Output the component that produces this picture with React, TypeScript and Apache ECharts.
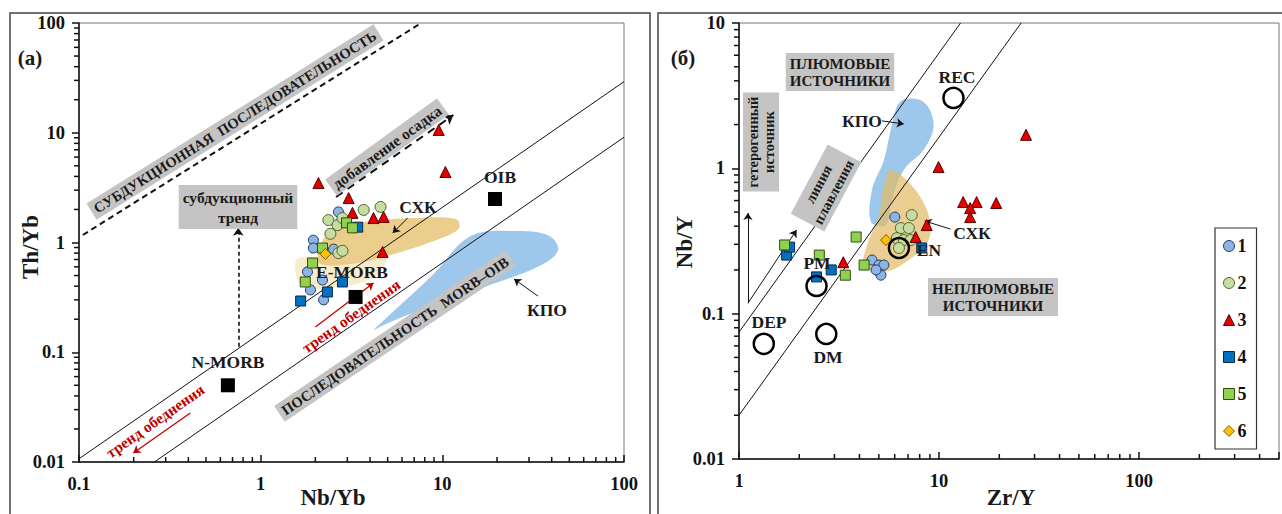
import React, { useEffect, useRef } from 'react';
import * as echarts from 'echarts';

const FONT = "'Liberation Serif','Times New Roman',serif";

// ---------- Panel (а): x = Nb/Yb, y = Th/Yb ----------
const A_S1 = [[2.68, 1.9], [1.95, 1.05], [1.95, 0.89], [2.52, 0.87], [1.81, 0.54], [1.88, 0.37], [2.19, 0.455], [2.22, 0.3]];
const A_S2 = [[4.57, 2.11], [3.69, 1.98], [2.36, 1.6], [2.65, 1.44], [2.42, 1.2], [2.82, 1.67], [2.68, 0.8], [2.82, 0.84]];
const A_S3 = [[2.08, 3.48], [3.05, 2.54], [3.2, 1.86], [4.18, 1.67], [4.75, 1.71], [4.69, 0.82], [9.55, 10.6], [10.4, 4.39]];
const A_S4 = [[3.42, 1.38], [2.33, 0.354], [1.66, 0.293], [2.82, 0.437]];
const A_S5 = [[2.97, 1.51], [3.2, 1.36], [2.19, 0.89], [1.93, 0.65], [1.76, 0.437]];
const A_S6 = [[2.27, 0.786]];
const A_REF = [[0.66, 0.05], [3.33, 0.319], [19.5, 2.49]]; // N-MORB, E-MORB, OIB

const A_UPPER = [[0.1, 0.0107], [100, 29.2]];
const A_LOWER = [[0.26, 0.01], [100, 9.1]];
const A_SUBD = [[0.105, 1.17], [7.65, 100]];
const A_SED_ARROW = [[2.6, 2.6], [11.5, 14.5]];
const A_SUBD_ARROW = [[0.753, 0.112], [0.753, 1.36]];
const A_RED_ARROW1 = [[0.41, 0.028], [0.199, 0.0121]];
const A_RED_ARROW2 = [[2.0, 0.17], [4.18, 0.428]];
const A_SXK_ARROW = [[6.44, 1.67], [5.33, 1.22]];
const A_KPO_ARROW = [[33.6, 0.325], [24.8, 0.465]];

const A_SXK_FIELD = [[2.08, 0.664], [2.42, 1.3], [3.69, 1.54], [6.95, 1.67], [11.9, 1.64], [12.3, 1.33], [8.63, 1.01], [5.19, 0.769], [3.13, 0.637]];
const A_EMORB_FIELD = [[1.61, 0.722], [3.13, 0.664], [4.88, 0.722], [4.13, 0.475], [2.42, 0.385], [1.66, 0.41]];
const A_KPO_FIELD = [[4.2, 0.16], [8.63, 0.485], [14.4, 1.15], [26.1, 1.27], [38.6, 1.15], [43.4, 0.855], [34.9, 0.62], [16.9, 0.39], [6.95, 0.23], [4.7, 0.175]];

const A_X_MINOR = [0.2, 0.3, 0.4, 0.5, 0.6, 0.7, 0.8, 0.9, 2, 3, 4, 5, 6, 7, 8, 9, 20, 30, 40, 50, 60, 70, 80, 90];
const A_Y_MINOR = [0.02, 0.03, 0.04, 0.05, 0.06, 0.07, 0.08, 0.09, 0.2, 0.3, 0.4, 0.5, 0.6, 0.7, 0.8, 0.9, 2, 3, 4, 5, 6, 7, 8, 9, 20, 30, 40, 50, 60, 70, 80, 90];

// ---------- Panel (б): x = Zr/Y, y = Nb/Y ----------
const B_S1 = [[6.01, 0.462], [4.62, 0.234], [5.01, 0.216], [5.3, 0.216], [5.12, 0.184], [4.84, 0.2]];
const B_S2 = [[7.3, 0.477], [6.44, 0.388], [7.06, 0.388], [6.15, 0.331], [6.66, 0.321], [7.22, 0.321], [6.3, 0.283]];
const B_S3 = [[27.2, 1.7], [9.94, 1.02], [13.2, 0.586], [15.4, 0.586], [14.3, 0.533], [14.3, 0.462], [19.3, 0.577], [8.67, 0.407], [7.64, 0.337], [3.32, 0.226]];
const B_S4 = [[1.73, 0.253], [2.44, 0.179], [2.89, 0.2], [1.79, 0.287], [8.19, 0.283]];
const B_S5 = [[1.69, 0.297], [2.52, 0.253], [3.85, 0.337], [3.4, 0.184], [4.22, 0.216]];
const B_S6 = [[5.43, 0.321]];
const B_REF = [[1.33, 0.062], [2.73, 0.0725], [2.44, 0.155], [6.3, 0.283], [11.8, 3.05]]; // DEP, DM, PM, EN, REC

const B_UPPER = [[1, 0.0746], [12.8, 10]];
const B_LOWER = [[1, 0.02], [25.7, 10]];
const B_HET_ARROW = [[1.108, 0.118], [1.108, 0.492]];
const B_MELT_ARROW = [[1.108, 0.118], [1.94, 0.376]];
const B_KPO_ARROW = [[5.18, 2.12], [6.66, 2.02]];
const B_SXK_ARROW = [[11.4, 0.382], [8.47, 0.434]];

const B_KPO_FIELD = [[6.44, 2.9], [8.38, 2.86], [9.39, 1.99], [8.38, 1.34], [6.66, 0.973], [5.81, 0.605], [5.43, 0.407], [4.57, 0.427], [4.62, 0.71], [5.3, 1.14], [5.81, 1.99]];
const B_SXK_FIELD = [[5.81, 0.973], [7.47, 0.732], [8.87, 0.477], [8.87, 0.321], [7.06, 0.234], [5.3, 0.193], [4.22, 0.216], [4.37, 0.297], [5.01, 0.477], [5.3, 0.767]];

const B_X_MINOR = [2, 3, 4, 5, 6, 7, 8, 9, 20, 30, 40, 50, 60, 70, 80, 90, 200, 300, 400];
const B_Y_MINOR = [0.02, 0.03, 0.04, 0.05, 0.06, 0.07, 0.08, 0.09, 0.2, 0.3, 0.4, 0.5, 0.6, 0.7, 0.8, 0.9, 2, 3, 4, 5, 6, 7, 8, 9];

const LEGEND_NAMES = ['1', '2', '3', '4', '5', '6'];

const STYLES: Record<string, any> = {
  '1': { symbol: 'circle', size: 10, color: '#8eb4e3', border: '#1f3864' },
  '2': { symbol: 'circle', size: 11, color: '#c7dca0', border: '#4f6228' },
  '3': { symbol: 'triangle', size: 11, color: '#e30000', border: '#5a0000' },
  '4': { symbol: 'rect', size: 10, color: '#0070c0', border: '#0b2a4a' },
  '5': { symbol: 'rect', size: 10, color: '#92d050', border: '#2f4f12' },
  '6': { symbol: 'diamond', size: 11, color: '#ffc000', border: '#7f6000' },
};

const fmt = (v: number) => {
  const l = Math.log10(v);
  const e = Math.round(l);
  if (Math.abs(l - e) > 1e-6) return '';
  return e < 0 ? v.toFixed(-e) : String(Math.round(v));
};

const axis = (gi: number, min: number, max: number, isX: boolean) => ({
  type: 'log',
  logBase: 10,
  gridIndex: gi,
  min,
  max,
  axisLine: { show: true, onZero: false, lineStyle: { color: '#111', width: 1.5 } },
  axisTick: { show: true, inside: isX, length: 7, lineStyle: { color: '#111', width: 1.5 } },
  axisLabel: {
    margin: isX ? 12 : 14,
    fontSize: 18.5,
    fontWeight: 'bold',
    fontFamily: FONT,
    color: '#111',
    formatter: fmt,
  },
  splitLine: { show: false },
});

const scatter = (name: string, data: number[][], gi: number) => {
  const s = STYLES[name];
  return {
    type: 'scatter',
    name,
    xAxisIndex: gi,
    yAxisIndex: gi,
    data,
    symbol: s.symbol,
    symbolSize: s.size,
    itemStyle: { color: s.color, borderColor: s.border, borderWidth: 1, opacity: 1 },
    z: 5,
  };
};

const field = (poly: number[][], gi: number, fill: string, z = 1) => ({
  type: 'custom',
  xAxisIndex: gi,
  yAxisIndex: gi,
  silent: true,
  clip: true,
  z,
  data: [poly[0]],
  renderItem: (params: any, api: any) => ({
    type: 'polygon',
    shape: { points: poly.map((p) => api.coord(p)), smooth: 0.35 },
    style: { fill, stroke: 'none' },
  }),
});

// minor ticks: tiny rect symbols placed on the axis through the axis scale
const minorTicks = (vals: number[], gi: number, isX: boolean, other: number) => ({
  type: 'scatter',
  xAxisIndex: gi,
  yAxisIndex: gi,
  silent: true,
  clip: false,
  z: 3,
  data: vals.map((v) => (isX ? [v, other] : [other, v])),
  symbol: 'rect',
  symbolSize: isX ? [1.5, 5] : [5, 1.5],
  symbolOffset: isX ? [0, -2.5] : [-2.5, 0],
  itemStyle: { color: '#111', opacity: 1 },
});

const seg = (coords: number[][], gi: number, opts: any = {}) => ({
  type: 'lines',
  coordinateSystem: 'cartesian2d',
  xAxisIndex: gi,
  yAxisIndex: gi,
  silent: true,
  z: 4,
  symbol: opts.arrow ? ['none', 'arrow'] : ['none', 'none'],
  symbolSize: opts.arrowSize || 8,
  lineStyle: { color: opts.color || '#111', width: opts.width || 1, type: opts.dash || 'solid', opacity: 1, curveness: 0 },
  data: [{ coords }],
});

const txt = (x: number, y: number, text: string, o: any = {}) => ({
  type: 'text',
  x,
  y,
  rotation: ((o.rot || 0) * Math.PI) / 180,
  z: 100,
  silent: true,
  style: {
    text,
    fill: o.color || '#1a1a1a',
    fontSize: o.size || 17.5,
    fontWeight: 'bold',
    fontFamily: FONT,
    align: 'center',
    verticalAlign: 'middle',
    textAlign: 'center',
    textVerticalAlign: 'middle',
    lineHeight: o.lh || undefined,
    backgroundColor: o.bg ? '#c4c4c4' : undefined,
    padding: o.bg ? [2, 4] : undefined,
  },
});

export default function App() {
  const ref = useRef<HTMLDivElement>(null);
  useEffect(() => {
    if (!ref.current) return;
    const chart = echarts.init(ref.current, null, { renderer: 'svg' });
    const option: any = {
      animation: false,
      backgroundColor: '#fff',
      textStyle: { fontFamily: FONT },
      grid: [
        { left: 79, top: 23, width: 545, height: 439, show: true, borderColor: '#777', borderWidth: 1, backgroundColor: 'transparent' },
        { left: 739, top: 23, width: 542, height: 436, show: true, borderColor: '#777', borderWidth: 1, backgroundColor: 'transparent' },
      ],
      xAxis: [axis(0, 0.1, 100, true), axis(1, 1, 500, true)],
      yAxis: [axis(0, 0.01, 100, false), axis(1, 0.01, 10, false)],
      legend: {
        data: LEGEND_NAMES,
        orient: 'vertical',
        left: 1215,
        top: 228,
        padding: [9, 10, 9, 8],
        itemGap: 19,
        itemWidth: 11,
        itemHeight: 11,
        itemStyle: { borderWidth: 1 },
        borderColor: '#333',
        borderWidth: 1.2,
        backgroundColor: '#fff',
        selectedMode: false,
        textStyle: { fontSize: 18, fontWeight: 'bold', fontFamily: FONT, color: '#111', padding: [0, 0, 0, -2] },
      },
      series: [
        // fields
        field(A_EMORB_FIELD, 0, 'rgba(246,234,200,0.9)', 1),
        field(A_SXK_FIELD, 0, 'rgba(232,196,120,0.85)', 1),
        field(A_KPO_FIELD, 0, 'rgba(140,190,232,0.85)', 1),
        field(B_KPO_FIELD, 1, 'rgba(140,190,232,0.85)', 1),
        field(B_SXK_FIELD, 1, 'rgba(226,186,100,0.7)', 1),
        // minor ticks
        minorTicks(A_X_MINOR, 0, true, 0.01),
        minorTicks(A_Y_MINOR, 0, false, 0.1),
        minorTicks(B_X_MINOR, 1, true, 0.01),
        minorTicks(B_Y_MINOR, 1, false, 1),
        // lines (a)
        seg(A_UPPER, 0),
        seg(A_LOWER, 0),
        seg(A_SUBD, 0, { dash: [6, 4], width: 2 }),
        seg(A_SED_ARROW, 0, { dash: [8, 6], width: 2, arrow: true, arrowSize: 9 }),
        seg(A_SUBD_ARROW, 0, { dash: [4, 3], width: 1.6, arrow: true, arrowSize: 8 }),
        seg(A_RED_ARROW1, 0, { color: '#c00000', width: 1.3, arrow: true, arrowSize: 7 }),
        seg(A_RED_ARROW2, 0, { color: '#c00000', width: 1.3, arrow: true, arrowSize: 7 }),
        seg(A_SXK_ARROW, 0, { width: 1, arrow: true, arrowSize: 7 }),
        seg(A_KPO_ARROW, 0, { width: 1, arrow: true, arrowSize: 7 }),
        // lines (б)
        seg(B_UPPER, 1),
        seg(B_LOWER, 1),
        seg(B_HET_ARROW, 1, { width: 1, arrow: true, arrowSize: 7 }),
        seg(B_MELT_ARROW, 1, { width: 1, arrow: true, arrowSize: 7 }),
        seg(B_KPO_ARROW, 1, { width: 1, arrow: true, arrowSize: 7 }),
        seg(B_SXK_ARROW, 1, { width: 1, arrow: true, arrowSize: 7 }),
        // data (a)
        scatter('1', A_S1, 0),
        scatter('2', A_S2, 0),
        scatter('3', A_S3, 0),
        scatter('4', A_S4, 0),
        scatter('5', A_S5, 0),
        scatter('6', A_S6, 0),
        {
          type: 'scatter', name: 'ref-a', xAxisIndex: 0, yAxisIndex: 0, data: A_REF,
          symbol: 'rect', symbolSize: 14, itemStyle: { color: '#000', opacity: 1 }, z: 6,
        },
        // data (б)
        scatter('1', B_S1, 1),
        scatter('2', B_S2, 1),
        scatter('3', B_S3, 1),
        scatter('4', B_S4, 1),
        scatter('5', B_S5, 1),
        scatter('6', B_S6, 1),
        {
          type: 'scatter', name: 'ref-b', xAxisIndex: 1, yAxisIndex: 1, data: B_REF,
          symbol: 'circle', symbolSize: 20,
          itemStyle: { color: 'rgba(0,0,0,0)', borderColor: '#000', borderWidth: 2.5, opacity: 1 }, z: 6,
        },
      ],
      graphic: {
        elements: [
          { type: 'rect', z: 0, silent: true, shape: { x: 10, y: 13, width: 640, height: 520 }, style: { fill: 'none', stroke: '#444', lineWidth: 1.5 } },
          { type: 'rect', z: 0, silent: true, shape: { x: 658, y: 13, width: 640, height: 520 }, style: { fill: 'none', stroke: '#444', lineWidth: 1.5 } },
          // panel (а)
          txt(30, 58, '(а)', { size: 21 }),
          txt(30, 247, 'Th/Yb', { size: 23, rot: 90 }),
          txt(333, 497, 'Nb/Yb', { size: 23 }),
          txt(235, 122, 'СУБДУКЦИОННАЯ  ПОСЛЕДОВАТЕЛЬНОСТЬ', { size: 14.5, rot: 32, bg: true }),
          txt(387, 147, 'добавление осадка', { size: 15.5, rot: 36, bg: true }),
          txt(238, 207, 'субдукционный\nтренд', { size: 15.5, lh: 20, bg: true }),
          txt(155, 421, 'тренд обеднения', { size: 15.5, rot: 35, color: '#c00000' }),
          txt(351, 316, 'тренд обеднения', { size: 15.5, rot: 35, color: '#c00000' }),
          txt(395, 336, 'ПОСЛЕДОВАТЕЛЬНОСТЬ  MORB–OIB', { size: 14.5, rot: 34, bg: true }),
          txt(228, 362, 'N-MORB'),
          txt(352, 272, 'E-MORB'),
          txt(500, 177, 'OIB'),
          txt(418, 207, 'СХК'),
          txt(547, 310, 'КПО'),
          // panel (б)
          txt(683, 58, '(б)', { size: 21 }),
          txt(684, 242, 'Nb/Y', { size: 23, rot: 90 }),
          txt(1011, 497, 'Zr/Y', { size: 23 }),
          txt(840, 72, 'ПЛЮМОВЫЕ\nИСТОЧНИКИ', { size: 15, lh: 17, bg: true }),
          txt(761, 142, 'гетерогенный\nисточник', { size: 14.5, lh: 16, rot: 90, bg: true }),
          txt(826, 188, 'линия\nплавления', { size: 14.5, lh: 17, rot: 62, bg: true }),
          txt(993, 297, 'НЕПЛЮМОВЫЕ\nИСТОЧНИКИ', { size: 15, lh: 17, bg: true }),
          txt(862, 121, 'КПО'),
          txt(972, 233, 'СХК'),
          txt(769, 322, 'DEP'),
          txt(828, 357, 'DM'),
          txt(817, 263, 'PM'),
          txt(929, 250, 'EN'),
          txt(957, 77, 'REC'),
        ],
      },
    };
    chart.setOption(option);
    return () => chart.dispose();
  }, []);
  return (
    <div
      ref={ref}
      style={{ position: 'absolute', left: 0, top: 0, width: 1282, height: 514, background: '#fff' }}
    />
  );
}
